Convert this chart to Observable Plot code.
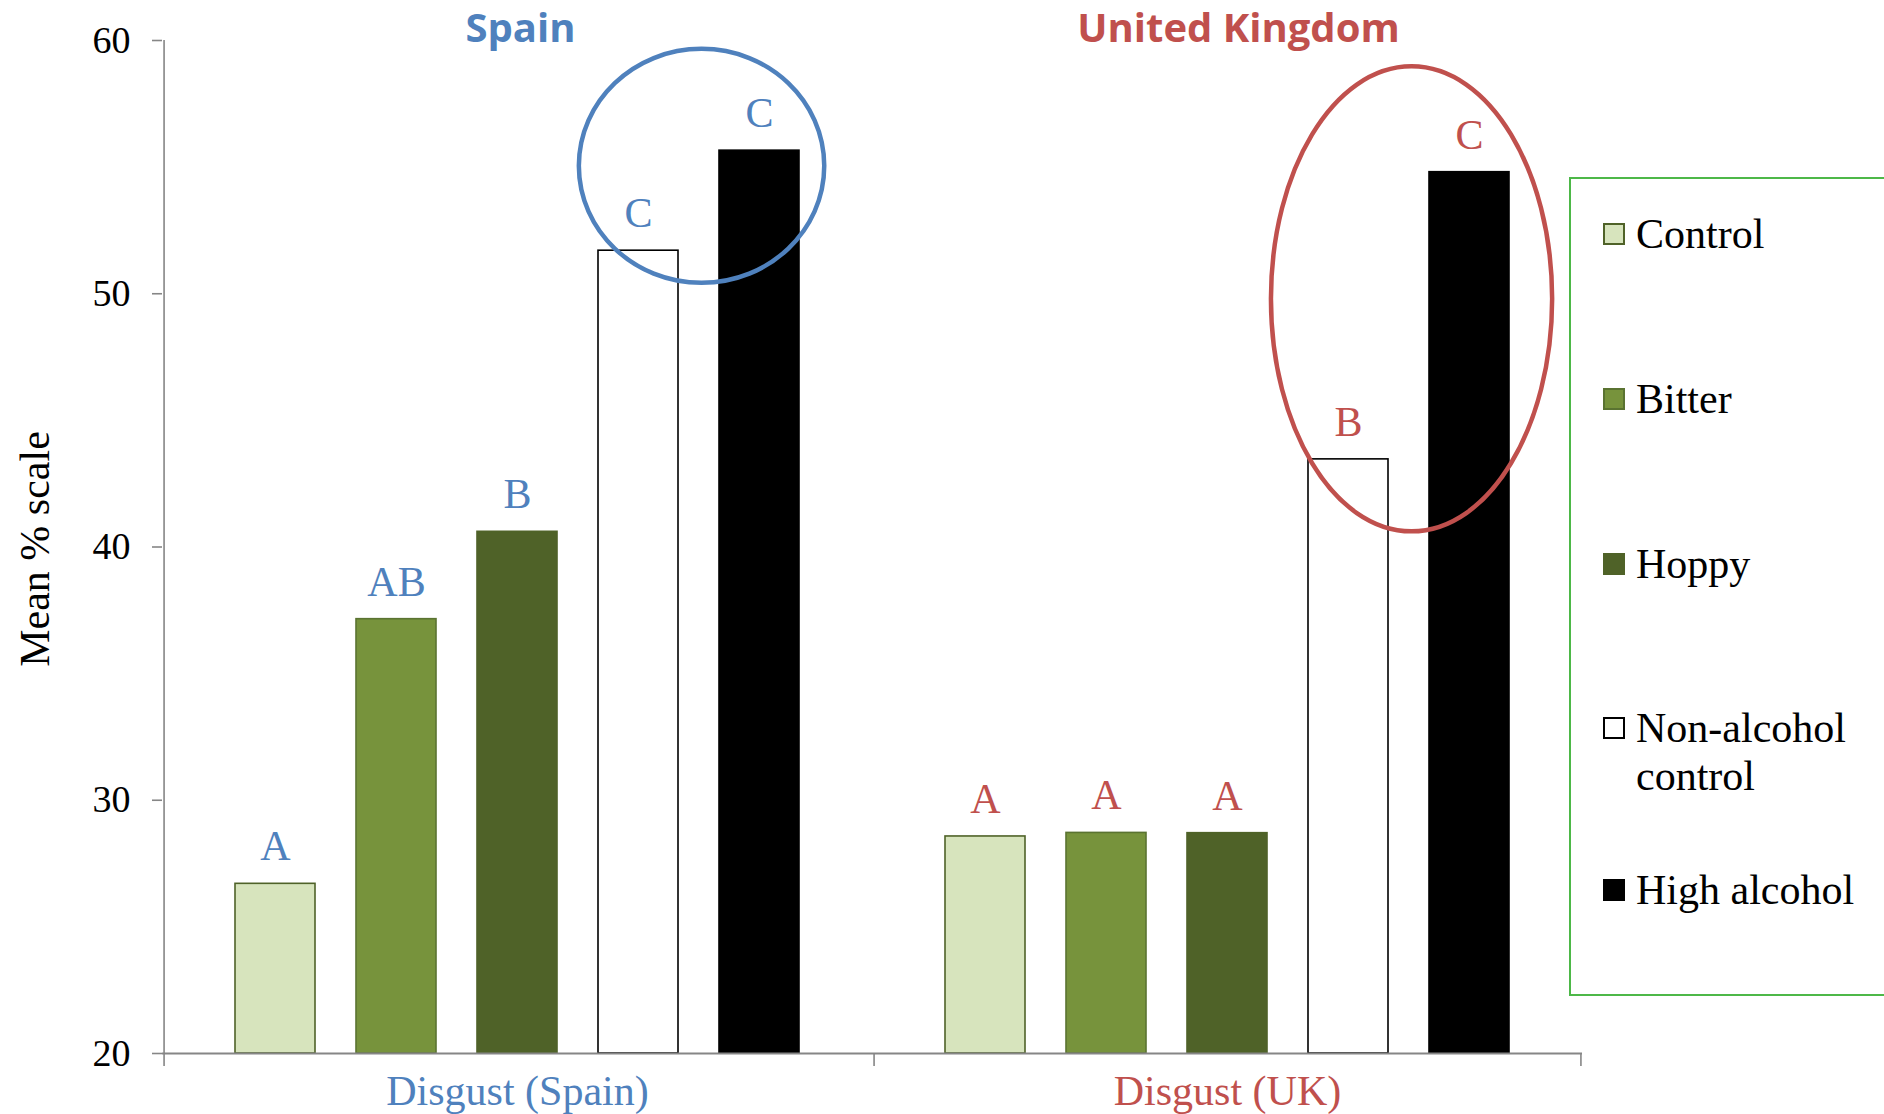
<!DOCTYPE html>
<html>
<head>
<meta charset="utf-8">
<script src="https://cdn.jsdelivr.net/npm/d3@7"></script>
<script src="https://cdn.jsdelivr.net/npm/@observablehq/plot@0.6"></script>
<style>
  html, body { margin: 0; padding: 0; background: #fff; }
  #wrap { position: relative; width: 1884px; height: 1114px; overflow: hidden; }
  #wrap svg { position: absolute; left: 0; top: 0; }
  #legend { position: absolute; left: 1569px; top: 177px; width: 320px; height: 819px;
            border: 2px solid #4DB848; box-sizing: border-box; background: #fff;
            font-family: "Liberation Serif", "Times New Roman", serif; font-size: 42px; color: #000; }
  .item { position: absolute; left: 32px; line-height: 48px; }
  .sw { position: absolute; left: 0; top: 13px; width: 22px; height: 22px; box-sizing: border-box; border: 2px solid; }
  .lbl { position: absolute; left: 33px; top: 0; width: 240px; white-space: normal; }
</style>
</head>
<body>
<div id="wrap"><div id="legend"></div></div>
<script>
// ---------------- data ----------------
const countries = ["Spain", "United Kingdom"];
const treatments = ["Control", "Bitter", "Hoppy", "Non-alcohol control", "High alcohol"];
const spainValues = [26.7, 37.15, 40.6, 51.7, 55.65];
const ukValues = [28.57, 28.71, 28.7, 43.46, 54.8];
const spainLetters = ["A", "AB", "B", "C", "C"];
const ukLetters = ["A", "A", "A", "B", "C"];
const axisLabels = ["Disgust (Spain)", "Disgust (UK)"];
const yTicks = [20, 30, 40, 50, 60];
const yLabel = "Mean % scale";
// highlighted pairs (annotation ellipses), centre read in data units
const highlightCentres = [55.05, 49.8];

// ---------------- styles ----------------
const barFill = ["#D7E4BD", "#77933C", "#4F6228", "#FFFFFF", "#000000"];
const barStroke = ["#4F6228", "#5A7331", "#4F6228", "#000000", "#000000"];
const countryColor = ["#4F81BD", "#C0504D"];
const titleDx = [3, 11];
const ellipseSize = [[122.7, 117], [140.6, 232.5]]; // rx, ry in px

const W = 1884, H = 1114, mL = 161, mR = 302, mT = 40, mB = 61;
const pIn = 0.336, pOut = 0.582;
const facetW = (W - mL - mR) / countries.length;
const step = facetW / (treatments.length - pIn + 2 * pOut);
const bw = step * (1 - pIn);
const edge = pOut * step + bw / 2;
const yPerPx = (yTicks[yTicks.length - 1] - yTicks[0]) / (H - mT - mB);
const yBelow = yTicks[0] - 13 * yPerPx;

const rows = countries.flatMap((c, ci) => treatments.map((t, ti) => ({
  country: c, ci, treatment: t, ti,
  value: (ci === 0 ? spainValues : ukValues)[ti],
  letter: (ci === 0 ? spainLetters : ukLetters)[ti]
})));
const facetRows = countries.map((c, ci) => ({country: c, ci, label: axisLabels[ci]}));

function ellipseSymbol(aspect) {
  const k = 0.5522848;
  return {
    draw(ctx, size) {
      const rx = Math.sqrt(size / Math.PI), ry = rx * aspect;
      ctx.moveTo(rx, 0);
      ctx.bezierCurveTo(rx, ry * k, rx * k, ry, 0, ry);
      ctx.bezierCurveTo(-rx * k, ry, -rx, ry * k, -rx, 0);
      ctx.bezierCurveTo(-rx, -ry * k, -rx * k, -ry, 0, -ry);
      ctx.bezierCurveTo(rx * k, -ry, rx, -ry * k, rx, 0);
      ctx.closePath();
    }
  };
}

const ellipseMarks = countries.map((c, ci) => Plot.dot(
  [{country: c, treatment: treatments[treatments.length - 1], y: highlightCentres[ci]}],
  {fx: "country", x: "treatment", y: "y", dx: -step / 2 + 3,
   r: ellipseSize[ci][0], symbol: ellipseSymbol(ellipseSize[ci][1] / ellipseSize[ci][0]),
   fill: "none", stroke: countryColor[ci], strokeWidth: 4.5}
));

const titleMarks = facetRows.map((r, ci) => Plot.text([r], {
  fx: "country", text: "country", frameAnchor: "top", lineAnchor: "middle", dy: -11, dx: titleDx[ci],
  fill: countryColor[ci], fontSize: 40, fontFamily: "Open Sans", fontWeight: "bold"}));

const serif = "Liberation Serif";
const axisGray = "#868686";

const plot = Plot.plot({
  width: W, height: H,
  marginLeft: mL, marginRight: mR, marginTop: mT, marginBottom: mB,
  style: {fontFamily: serif, background: "transparent", overflow: "visible"},
  fx: {domain: countries, padding: 0, axis: null, label: null},
  x: {domain: treatments, paddingInner: pIn, paddingOuter: pOut, axis: null, label: null},
  y: {domain: [yTicks[0], yTicks[yTicks.length - 1]], label: null},
  marks: [
    Plot.barY(rows, {fx: "country", x: "treatment", y1: yTicks[0], y2: "value",
      fill: d => barFill[d.ti], stroke: d => barStroke[d.ti], strokeWidth: 1.6}),
    Plot.ruleY([yTicks[0]], {stroke: axisGray, strokeWidth: 2}),
    // y axis line + left separators
    Plot.ruleX(facetRows, {fx: "country", x: () => treatments[0], dx: -edge,
      y1: yBelow, y2: d => d.ci === 0 ? yTicks[yTicks.length - 1] : yTicks[0],
      stroke: axisGray, strokeWidth: 1.6}),
    // right end separator
    Plot.ruleX(facetRows.slice(-1), {fx: "country", x: () => treatments[treatments.length - 1], dx: edge,
      y1: yBelow, y2: yTicks[0], stroke: axisGray, strokeWidth: 1.6}),
    Plot.axisY({ticks: yTicks, tickSize: 10, tickPadding: 22, stroke: axisGray, strokeWidth: 1.6,
      fill: "black", fontSize: 38, fontFamily: serif, label: null}),
    Plot.text(rows, {fx: "country", x: "treatment", y: "value", text: "letter", dy: -37,
      fill: d => countryColor[d.ci], fontSize: 42, fontFamily: serif}),
    Plot.text(facetRows, {fx: "country", text: "label", frameAnchor: "bottom", lineAnchor: "middle", dy: 38,
      fill: d => countryColor[d.ci], fontSize: 42, fontFamily: serif}),
    ...titleMarks,
    Plot.text(facetRows.slice(0, 1), {fx: "country", text: () => yLabel, frameAnchor: "left",
      textAnchor: "middle", lineAnchor: "middle",
      rotate: -90, dx: -127, dy: 2, fill: "black", fontSize: 42, fontFamily: serif}),
    ...ellipseMarks
  ]
});
document.getElementById("wrap").prepend(plot);

// ---------------- legend ----------------
const legendTop = 177;
const firstLineCentres = [234, 399, 563.5, 728, 890];
const legend = d3.select("#legend");
treatments.forEach((t, i) => {
  const item = legend.append("div").attr("class", "item")
    .style("top", (firstLineCentres[i] - 24 - legendTop - 2) + "px");
  item.append("div").attr("class", "sw")
    .style("background", barFill[i]).style("border-color", barStroke[i]);
  item.append("div").attr("class", "lbl").text(t);
});
</script>
</body>
</html>
